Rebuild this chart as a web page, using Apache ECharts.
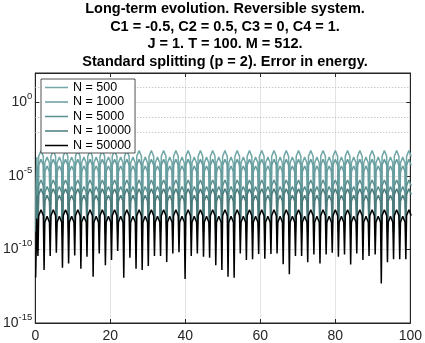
<!DOCTYPE html>
<html>
<head>
<meta charset="utf-8">
<script src="https://cdn.jsdelivr.net/npm/echarts@6/dist/echarts.min.js"></script>
<style>
html, body { margin: 0; padding: 0; background: #fff; }
#chart { width: 425px; height: 343px; }
</style>
</head>
<body>
<div id="chart"></div>
<script>
var FONT = "'Liberation Sans', Arial, sans-serif";
var titleLines = [
    'Long-term evolution. Reversible system.',
    'C1 = -0.5, C2 = 0.5, C3 = 0, C4 = 1.',
    'J = 1. T = 100. M = 512.',
    'Standard splitting (p = 2). Error in energy.'
];
var seriesNames = ['N = 500', 'N = 1000', 'N = 5000', 'N = 10000', 'N = 50000'];
var lineColors = ['#72a7a8', '#679d9e', '#5a8f90', '#4b7a7b', '#000000'];
var xTicks = [0, 20, 40, 60, 80, 100];
// decades that carry a dotted grid line (exponents)
var minorDecades = [1, -1, -2, -3, -4, -6, -7, -8, -9, -11, -12, -13, -14];

// time samples (shared by all runs)
var t = [
    0.10, 0.40,
    0.70, 0.90, 1.52, 2.14, 2.34, 2.54, 3.15, 3.77,
    3.97, 4.17, 4.79, 5.41, 5.61, 5.81, 6.42, 7.04,
    7.24, 7.44, 8.06, 8.68, 8.88, 9.08, 9.69, 10.31,
    10.51, 10.71, 11.33, 11.95, 12.15, 12.35, 12.96, 13.58,
    13.78, 13.98, 14.60, 15.22, 15.42, 15.62, 16.23, 16.85,
    17.05, 17.25, 17.87, 18.49, 18.69, 18.89, 19.50, 20.12,
    20.32, 20.52, 21.14, 21.76, 21.96, 22.16, 22.77, 23.39,
    23.59, 23.79, 24.41, 25.03, 25.23, 25.43, 26.04, 26.66,
    26.86, 27.06, 27.68, 28.30, 28.50, 28.70, 29.31, 29.93,
    30.13, 30.33, 30.95, 31.57, 31.77, 31.97, 32.58, 33.20,
    33.40, 33.60, 34.22, 34.84, 35.04, 35.24, 35.85, 36.47,
    36.67, 36.87, 37.49, 38.11, 38.31, 38.51, 39.12, 39.74,
    39.94, 40.14, 40.76, 41.38, 41.58, 41.78, 42.39, 43.01,
    43.21, 43.41, 44.03, 44.65, 44.85, 45.05, 45.66, 46.28,
    46.48, 46.68, 47.30, 47.92, 48.12, 48.32, 48.93, 49.55,
    49.75, 49.95, 50.57, 51.19, 51.39, 51.59, 52.20, 52.82,
    53.02, 53.22, 53.84, 54.46, 54.66, 54.86, 55.47, 56.09,
    56.29, 56.49, 57.11, 57.73, 57.93, 58.13, 58.74, 59.36,
    59.56, 59.76, 60.38, 61.00, 61.20, 61.40, 62.01, 62.63,
    62.83, 63.03, 63.65, 64.27, 64.47, 64.67, 65.28, 65.90,
    66.10, 66.30, 66.92, 67.54, 67.74, 67.94, 68.55, 69.17,
    69.37, 69.57, 70.19, 70.81, 71.01, 71.21, 71.82, 72.44,
    72.64, 72.84, 73.46, 74.08, 74.28, 74.48, 75.09, 75.71,
    75.91, 76.11, 76.73, 77.35, 77.55, 77.75, 78.36, 78.98,
    79.18, 79.38, 80.00, 80.62, 80.82, 81.02, 81.63, 82.25,
    82.45, 82.65, 83.27, 83.89, 84.09, 84.29, 84.90, 85.52,
    85.72, 85.92, 86.54, 87.16, 87.36, 87.56, 88.17, 88.79,
    88.99, 89.19, 89.81, 90.43, 90.63, 90.83, 91.44, 92.06,
    92.26, 92.46, 93.08, 93.70, 93.90, 94.10, 94.71, 95.33,
    95.53, 95.73, 96.35, 96.97, 97.17, 97.37, 97.98, 98.60,
    98.80, 99.00, 99.62, 100.24
];

// log10 of the energy error, one array per run
var logErr500 = [
    -7.90, -3.72,
    -7.80, -3.67, -3.27, -3.67, -8.10, -4.12, -3.72, -4.12,
    -7.90, -3.67, -3.27, -3.67, -7.85, -4.12, -3.72, -4.12,
    -8.20, -3.67, -3.27, -3.67, -8.00, -4.12, -3.72, -4.12,
    -7.80, -3.67, -3.27, -3.67, -8.10, -4.12, -3.72, -4.12,
    -7.90, -3.67, -3.27, -3.67, -8.30, -4.12, -3.72, -4.12,
    -7.85, -3.67, -3.27, -3.67, -8.05, -4.12, -3.72, -4.12,
    -7.95, -3.67, -3.27, -3.67, -7.80, -4.12, -3.72, -4.12,
    -8.30, -3.67, -3.27, -3.67, -7.90, -4.12, -3.72, -4.12,
    -8.10, -3.67, -3.27, -3.67, -8.10, -4.12, -3.72, -4.12,
    -8.05, -3.67, -3.27, -3.67, -7.85, -4.12, -3.72, -4.12,
    -7.90, -3.67, -3.27, -3.67, -8.00, -4.12, -3.72, -4.12,
    -7.85, -3.67, -3.27, -3.67, -7.80, -4.12, -3.72, -4.12,
    -8.30, -3.67, -3.27, -3.67, -7.90, -4.12, -3.72, -4.12,
    -7.85, -3.67, -3.27, -3.67, -7.90, -4.12, -3.72, -4.12,
    -7.95, -3.67, -3.27, -3.67, -8.05, -4.12, -3.72, -4.12,
    -8.10, -3.67, -3.27, -3.67, -8.20, -4.12, -3.72, -4.12,
    -8.30, -3.67, -3.27, -3.67, -7.85, -4.12, -3.72, -4.12,
    -7.95, -3.67, -3.27, -3.67, -7.95, -4.12, -3.72, -4.12,
    -7.85, -3.67, -3.27, -3.67, -7.95, -4.12, -3.72, -4.12,
    -7.85, -3.67, -3.27, -3.67, -7.85, -4.12, -3.72, -4.12,
    -8.05, -3.67, -3.27, -3.67, -8.20, -4.12, -3.72, -4.12,
    -7.90, -3.67, -3.27, -3.67, -7.90, -4.12, -3.72, -4.12,
    -8.00, -3.67, -3.27, -3.67, -7.85, -4.12, -3.72, -4.12,
    -8.05, -3.67, -3.27, -3.67, -7.85, -4.12, -3.72, -4.12,
    -7.80, -3.67, -3.27, -3.67, -7.90, -4.12, -3.72, -4.12,
    -7.85, -3.67, -3.27, -3.67, -8.05, -4.12, -3.72, -4.12,
    -7.85, -3.67, -3.27, -3.67, -7.95, -4.12, -3.72, -4.12,
    -7.90, -3.67, -3.27, -3.67, -7.85, -4.12, -3.72, -4.12,
    -8.30, -3.67, -3.27, -3.67, -8.00, -4.12, -3.72, -4.12,
    -7.95, -3.67, -3.27, -3.67, -7.95, -4.12, -3.72, -4.12,
    -7.95, -3.67, -3.27, -3.67
];
var logErr1000 = [
    -8.20, -4.32,
    -8.10, -4.27, -3.87, -4.27, -8.40, -4.72, -4.32, -4.72,
    -8.20, -4.27, -3.87, -4.27, -8.15, -4.72, -4.32, -4.72,
    -8.50, -4.27, -3.87, -4.27, -8.30, -4.72, -4.32, -4.72,
    -8.10, -4.27, -3.87, -4.27, -8.40, -4.72, -4.32, -4.72,
    -8.20, -4.27, -3.87, -4.27, -8.60, -4.72, -4.32, -4.72,
    -8.15, -4.27, -3.87, -4.27, -8.35, -4.72, -4.32, -4.72,
    -8.25, -4.27, -3.87, -4.27, -8.10, -4.72, -4.32, -4.72,
    -8.60, -4.27, -3.87, -4.27, -8.20, -4.72, -4.32, -4.72,
    -8.40, -4.27, -3.87, -4.27, -8.40, -4.72, -4.32, -4.72,
    -8.35, -4.27, -3.87, -4.27, -8.15, -4.72, -4.32, -4.72,
    -8.20, -4.27, -3.87, -4.27, -8.30, -4.72, -4.32, -4.72,
    -8.15, -4.27, -3.87, -4.27, -8.10, -4.72, -4.32, -4.72,
    -8.60, -4.27, -3.87, -4.27, -8.20, -4.72, -4.32, -4.72,
    -8.15, -4.27, -3.87, -4.27, -8.20, -4.72, -4.32, -4.72,
    -8.25, -4.27, -3.87, -4.27, -8.35, -4.72, -4.32, -4.72,
    -8.40, -4.27, -3.87, -4.27, -8.50, -4.72, -4.32, -4.72,
    -8.60, -4.27, -3.87, -4.27, -8.15, -4.72, -4.32, -4.72,
    -8.25, -4.27, -3.87, -4.27, -8.25, -4.72, -4.32, -4.72,
    -8.15, -4.27, -3.87, -4.27, -8.25, -4.72, -4.32, -4.72,
    -8.15, -4.27, -3.87, -4.27, -8.15, -4.72, -4.32, -4.72,
    -8.35, -4.27, -3.87, -4.27, -8.50, -4.72, -4.32, -4.72,
    -8.20, -4.27, -3.87, -4.27, -8.20, -4.72, -4.32, -4.72,
    -8.30, -4.27, -3.87, -4.27, -8.15, -4.72, -4.32, -4.72,
    -8.35, -4.27, -3.87, -4.27, -8.15, -4.72, -4.32, -4.72,
    -8.10, -4.27, -3.87, -4.27, -8.20, -4.72, -4.32, -4.72,
    -8.15, -4.27, -3.87, -4.27, -8.35, -4.72, -4.32, -4.72,
    -8.15, -4.27, -3.87, -4.27, -8.25, -4.72, -4.32, -4.72,
    -8.20, -4.27, -3.87, -4.27, -8.15, -4.72, -4.32, -4.72,
    -8.60, -4.27, -3.87, -4.27, -8.30, -4.72, -4.32, -4.72,
    -8.25, -4.27, -3.87, -4.27, -8.25, -4.72, -4.32, -4.72,
    -8.25, -4.27, -3.87, -4.27
];
var logErr5000 = [
    -8.50, -5.72,
    -8.40, -5.67, -5.27, -5.67, -8.70, -6.12, -5.72, -6.12,
    -8.50, -5.67, -5.27, -5.67, -8.45, -6.12, -5.72, -6.12,
    -8.80, -5.67, -5.27, -5.67, -8.60, -6.12, -5.72, -6.12,
    -8.40, -5.67, -5.27, -5.67, -8.70, -6.12, -5.72, -6.12,
    -8.50, -5.67, -5.27, -5.67, -8.90, -6.12, -5.72, -6.12,
    -8.45, -5.67, -5.27, -5.67, -8.65, -6.12, -5.72, -6.12,
    -8.55, -5.67, -5.27, -5.67, -8.40, -6.12, -5.72, -6.12,
    -8.90, -5.67, -5.27, -5.67, -8.50, -6.12, -5.72, -6.12,
    -8.70, -5.67, -5.27, -5.67, -8.70, -6.12, -5.72, -6.12,
    -8.65, -5.67, -5.27, -5.67, -8.45, -6.12, -5.72, -6.12,
    -8.50, -5.67, -5.27, -5.67, -8.60, -6.12, -5.72, -6.12,
    -8.45, -5.67, -5.27, -5.67, -8.40, -6.12, -5.72, -6.12,
    -8.90, -5.67, -5.27, -5.67, -8.50, -6.12, -5.72, -6.12,
    -8.45, -5.67, -5.27, -5.67, -8.50, -6.12, -5.72, -6.12,
    -8.55, -5.67, -5.27, -5.67, -8.65, -6.12, -5.72, -6.12,
    -8.70, -5.67, -5.27, -5.67, -8.80, -6.12, -5.72, -6.12,
    -8.90, -5.67, -5.27, -5.67, -8.45, -6.12, -5.72, -6.12,
    -8.55, -5.67, -5.27, -5.67, -8.55, -6.12, -5.72, -6.12,
    -8.45, -5.67, -5.27, -5.67, -8.55, -6.12, -5.72, -6.12,
    -8.45, -5.67, -5.27, -5.67, -8.45, -6.12, -5.72, -6.12,
    -8.65, -5.67, -5.27, -5.67, -8.80, -6.12, -5.72, -6.12,
    -8.50, -5.67, -5.27, -5.67, -8.50, -6.12, -5.72, -6.12,
    -8.60, -5.67, -5.27, -5.67, -8.45, -6.12, -5.72, -6.12,
    -8.65, -5.67, -5.27, -5.67, -8.45, -6.12, -5.72, -6.12,
    -8.40, -5.67, -5.27, -5.67, -8.50, -6.12, -5.72, -6.12,
    -8.45, -5.67, -5.27, -5.67, -8.65, -6.12, -5.72, -6.12,
    -8.45, -5.67, -5.27, -5.67, -8.55, -6.12, -5.72, -6.12,
    -8.50, -5.67, -5.27, -5.67, -8.45, -6.12, -5.72, -6.12,
    -8.90, -5.67, -5.27, -5.67, -8.60, -6.12, -5.72, -6.12,
    -8.55, -5.67, -5.27, -5.67, -8.55, -6.12, -5.72, -6.12,
    -8.55, -5.67, -5.27, -5.67
];
var logErr10000 = [
    -8.80, -6.32,
    -8.70, -6.27, -5.87, -6.27, -9.00, -6.72, -6.32, -6.72,
    -8.80, -6.27, -5.87, -6.27, -8.75, -6.72, -6.32, -6.72,
    -9.10, -6.27, -5.87, -6.27, -8.90, -6.72, -6.32, -6.72,
    -8.70, -6.27, -5.87, -6.27, -9.00, -6.72, -6.32, -6.72,
    -8.80, -6.27, -5.87, -6.27, -9.20, -6.72, -6.32, -6.72,
    -8.75, -6.27, -5.87, -6.27, -8.95, -6.72, -6.32, -6.72,
    -8.85, -6.27, -5.87, -6.27, -8.70, -6.72, -6.32, -6.72,
    -9.20, -6.27, -5.87, -6.27, -8.80, -6.72, -6.32, -6.72,
    -9.00, -6.27, -5.87, -6.27, -9.00, -6.72, -6.32, -6.72,
    -8.95, -6.27, -5.87, -6.27, -8.75, -6.72, -6.32, -6.72,
    -8.80, -6.27, -5.87, -6.27, -8.90, -6.72, -6.32, -6.72,
    -8.75, -6.27, -5.87, -6.27, -8.70, -6.72, -6.32, -6.72,
    -9.20, -6.27, -5.87, -6.27, -8.80, -6.72, -6.32, -6.72,
    -8.75, -6.27, -5.87, -6.27, -8.80, -6.72, -6.32, -6.72,
    -8.85, -6.27, -5.87, -6.27, -8.95, -6.72, -6.32, -6.72,
    -9.00, -6.27, -5.87, -6.27, -9.10, -6.72, -6.32, -6.72,
    -9.20, -6.27, -5.87, -6.27, -8.75, -6.72, -6.32, -6.72,
    -8.85, -6.27, -5.87, -6.27, -8.85, -6.72, -6.32, -6.72,
    -8.75, -6.27, -5.87, -6.27, -8.85, -6.72, -6.32, -6.72,
    -8.75, -6.27, -5.87, -6.27, -8.75, -6.72, -6.32, -6.72,
    -8.95, -6.27, -5.87, -6.27, -9.10, -6.72, -6.32, -6.72,
    -8.80, -6.27, -5.87, -6.27, -8.80, -6.72, -6.32, -6.72,
    -8.90, -6.27, -5.87, -6.27, -8.75, -6.72, -6.32, -6.72,
    -8.95, -6.27, -5.87, -6.27, -8.75, -6.72, -6.32, -6.72,
    -8.70, -6.27, -5.87, -6.27, -8.80, -6.72, -6.32, -6.72,
    -8.75, -6.27, -5.87, -6.27, -8.95, -6.72, -6.32, -6.72,
    -8.75, -6.27, -5.87, -6.27, -8.85, -6.72, -6.32, -6.72,
    -8.80, -6.27, -5.87, -6.27, -8.75, -6.72, -6.32, -6.72,
    -9.20, -6.27, -5.87, -6.27, -8.90, -6.72, -6.32, -6.72,
    -8.85, -6.27, -5.87, -6.27, -8.85, -6.72, -6.32, -6.72,
    -8.85, -6.27, -5.87, -6.27
];
var logErr50000 = [
    -11.90, -7.90,
    -10.45, -7.70, -7.30, -7.70, -11.40, -8.15, -7.75, -8.15,
    -10.45, -7.70, -7.30, -7.70, -10.22, -8.15, -7.75, -8.15,
    -11.24, -7.70, -7.30, -7.70, -10.95, -8.15, -7.75, -8.15,
    -10.41, -7.70, -7.30, -7.70, -11.31, -8.15, -7.75, -8.15,
    -10.50, -7.70, -7.30, -7.70, -11.85, -8.15, -7.75, -8.15,
    -10.27, -7.70, -7.30, -7.70, -11.08, -8.15, -7.75, -8.15,
    -10.72, -7.70, -7.30, -7.70, -10.11, -8.15, -7.75, -8.15,
    -11.92, -7.70, -7.30, -7.70, -10.56, -8.15, -7.75, -8.15,
    -11.31, -7.70, -7.30, -7.70, -11.40, -8.15, -7.75, -8.15,
    -11.13, -7.70, -7.30, -7.70, -10.45, -8.15, -7.75, -8.15,
    -10.45, -7.70, -7.30, -7.70, -10.85, -8.15, -7.75, -8.15,
    -10.27, -7.70, -7.30, -7.70, -10.18, -8.15, -7.75, -8.15,
    -12.00, -7.70, -7.30, -7.70, -10.45, -8.15, -7.75, -8.15,
    -10.27, -7.70, -7.30, -7.70, -10.50, -8.15, -7.75, -8.15,
    -10.56, -7.70, -7.30, -7.70, -11.08, -8.15, -7.75, -8.15,
    -11.40, -7.70, -7.30, -7.70, -11.85, -8.15, -7.75, -8.15,
    -11.92, -7.70, -7.30, -7.70, -10.27, -8.15, -7.75, -8.15,
    -10.72, -7.70, -7.30, -7.70, -10.67, -8.15, -7.75, -8.15,
    -10.30, -7.70, -7.30, -7.70, -10.63, -8.15, -7.75, -8.15,
    -10.30, -7.70, -7.30, -7.70, -10.27, -8.15, -7.75, -8.15,
    -11.00, -7.70, -7.30, -7.70, -11.69, -8.15, -7.75, -8.15,
    -10.45, -7.70, -7.30, -7.70, -10.45, -8.15, -7.75, -8.15,
    -10.86, -7.70, -7.30, -7.70, -10.34, -8.15, -7.75, -8.15,
    -10.95, -7.70, -7.30, -7.70, -10.34, -8.15, -7.75, -8.15,
    -10.22, -7.70, -7.30, -7.70, -10.50, -8.15, -7.75, -8.15,
    -10.34, -7.70, -7.30, -7.70, -11.02, -8.15, -7.75, -8.15,
    -10.27, -7.70, -7.30, -7.70, -10.72, -8.15, -7.75, -8.15,
    -10.45, -7.70, -7.30, -7.70, -10.34, -8.15, -7.75, -8.15,
    -12.31, -7.70, -7.30, -7.70, -10.86, -8.15, -7.75, -8.15,
    -10.67, -7.70, -7.30, -7.70, -10.67, -8.15, -7.75, -8.15,
    -10.67, -7.70, -7.30, -7.70
];
var runs = [logErr500, logErr1000, logErr5000, logErr10000, logErr50000];

function toPoints(logs) {
    var pts = [];
    for (var i = 0; i < t.length; i++) {
        pts.push([t[i], Math.pow(10, logs[i])]);
    }
    return pts;
}

var chart = echarts.init(document.getElementById('chart'), null, { renderer: 'canvas' });

var series = [];
for (var i = 0; i < runs.length; i++) {
    var s = {
        name: seriesNames[i],
        type: 'line',
        symbol: 'none',
        showSymbol: false,
        animation: false,
        color: lineColors[i],
        lineStyle: { color: lineColors[i], width: 1.5 },
        data: toPoints(runs[i])
    };
    if (i === 0) {
        // dotted grid at every decade
        s.markLine = {
            silent: true,
            symbol: 'none',
            animation: false,
            z: 1,
            label: { show: false },
            lineStyle: { type: [1, 2], color: '#b4b4b4', width: 1 },
            emphasis: { disabled: true },
            data: minorDecades.map(function (e) { return { yAxis: Math.pow(10, e) }; })
        };
    }
    series.push(s);
}

var yLabel = {
    margin: 3,
    showMinLabel: true,
    showMaxLabel: false,
    formatter: function (v) {
        var e = Math.round(Math.log10(v));
        return '{b|10}{s|' + e + '}';
    },
    rich: {
        b: { fontFamily: FONT, fontSize: 14, lineHeight: 14, padding: [4, 0, 4, 0], color: '#262626' },
        s: { fontFamily: FONT, fontSize: 9.5, lineHeight: 10, padding: [0, 0, 12, 0], color: '#262626' }
    }
};

var option = {
    backgroundColor: '#fff',
    animation: false,
    title: {
        text: titleLines.join('\n'),
        left: 225,
        top: 0,
        padding: 0,
        textAlign: 'center',
        textStyle: { fontFamily: FONT, fontSize: 14.5, fontWeight: 'bold', lineHeight: 17.7, color: '#000' }
    },
    legend: {
        data: seriesNames,
        orient: 'vertical',
        left: 41,
        top: 79,
        icon: 'rect',
        backgroundColor: '#fff',
        borderColor: '#262626',
        borderWidth: 0.8,
        padding: [2, 4, 1, 4],
        itemWidth: 23,
        itemHeight: 1.5,
        itemGap: 1.5,
        textStyle: { fontFamily: FONT, fontSize: 12.5, lineHeight: 13, color: '#000' }
    },
    grid: {
        left: 35, right: 10, top: 73, bottom: 19,
        show: true, borderColor: '#262626', borderWidth: 1, backgroundColor: 'transparent'
    },
    xAxis: [{
        type: 'value', min: 0, max: 100, interval: 20,
        axisLine: { show: true, onZero: false, lineStyle: { color: '#262626', width: 1 } },
        axisTick: { show: true, inside: true, length: 4, lineStyle: { color: '#262626' } },
        axisLabel: { margin: 6, fontFamily: FONT, fontSize: 14, color: '#262626',
            formatter: function (v) { return xTicks.indexOf(v) >= 0 ? String(v) : ''; } },
        splitLine: { show: true, lineStyle: { color: '#e3e3e3', width: 1 } }
    }, {
        type: 'value', min: 0, max: 100, interval: 20, position: 'top',
        axisLine: { show: true, onZero: false, lineStyle: { color: '#262626', width: 1 } },
        axisTick: { show: true, inside: true, length: 4, lineStyle: { color: '#262626' } },
        axisLabel: { show: false },
        splitLine: { show: false }
    }],
    yAxis: [{
        type: 'log', logBase: 100000, min: 1e-15, max: 1e2,
        axisLine: { show: true, onZero: false, lineStyle: { color: '#262626', width: 1 } },
        axisTick: { show: true, inside: true, length: 4, lineStyle: { color: '#262626' } },
        axisLabel: yLabel,
        splitLine: { show: true, lineStyle: { color: '#e3e3e3', width: 1 } }
    }, {
        type: 'log', logBase: 100000, min: 1e-15, max: 1e2, position: 'right',
        axisLine: { show: true, onZero: false, lineStyle: { color: '#262626', width: 1 } },
        axisTick: { show: true, inside: true, length: 4, lineStyle: { color: '#262626' } },
        axisLabel: { show: false },
        splitLine: { show: false }
    }],
    series: series
};

chart.setOption(option);
</script>
</body>
</html>
